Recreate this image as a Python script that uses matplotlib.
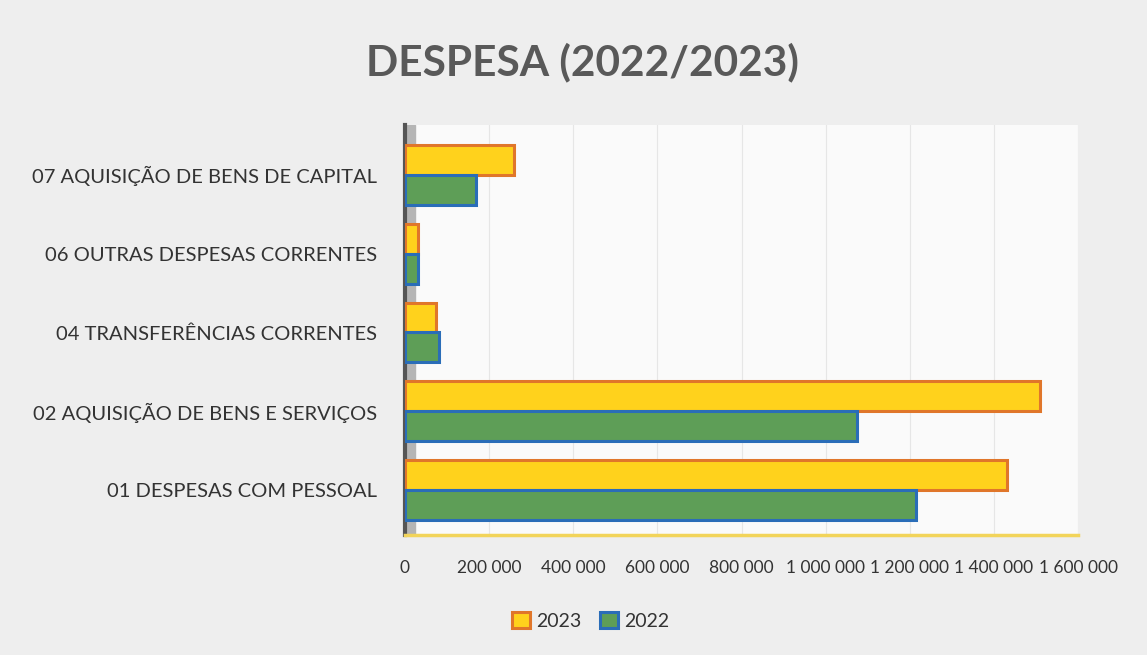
import matplotlib
matplotlib.use("Agg")
import matplotlib.pyplot as plt
import numpy as np

categories = ["01 DESPESAS COM PESSOAL", "02 AQUISIÇÃO DE BENS E SERVIÇOS",
              "04 TRANSFERÊNCIAS CORRENTES", "06 OUTRAS DESPESAS CORRENTES",
              "07 AQUISIÇÃO DE BENS DE CAPITAL"]
values_2023 = [1430000, 1510000, 75000, 30000, 260000]
values_2022 = [1215000, 1075000, 80000, 30000, 170000]
xticks = [0, 200000, 400000, 600000, 800000, 1000000, 1200000, 1400000, 1600000]
xtick_labels = ["0", "200 000", "400 000", "600 000", "800 000", "1 000 000",
                "1 200 000", "1 400 000", "1 600 000"]

plt.rcParams['font.family'] = ['Lato', 'DejaVu Sans']

fig = plt.figure(figsize=(11.47, 6.55), dpi=100)
fig.patch.set_facecolor("#eeeeee")
ax = fig.add_axes([0.353, 0.183, 0.587, 0.626])
ax.set_facecolor("#fafafa")

y = np.arange(len(categories))
h = 0.38
ax.barh(y + h / 2, values_2023, height=h, color="#FFD21C", edgecolor="#E0762A",
        linewidth=2.2, label="2023", zorder=3)
ax.barh(y - h / 2, values_2022, height=h, color="#5E9E57", edgecolor="#2A6DB8",
        linewidth=2.2, label="2022", zorder=3)

ax.set_xlim(0, 1600000)
ax.set_ylim(-0.57, 4.63)
ax.set_xticks(xticks)
ax.set_xticklabels(xtick_labels, fontsize=12.5, color="#333333")
ax.set_yticks(y)
ax.set_yticklabels(categories, fontsize=14.5, color="#333333")
ax.tick_params(axis="both", length=0)
ax.tick_params(axis="x", pad=18)
ax.tick_params(axis="y", pad=20)

ax.grid(axis="x", color="#e6e6e6", linewidth=0.8, zorder=0)
ax.axvspan(0, 25000, color="#b5b5b5", zorder=1)
for s in ["top", "right"]:
    ax.spines[s].set_visible(False)
ax.spines["left"].set_color("#555555")
ax.spines["left"].set_linewidth(3)
ax.spines["bottom"].set_color("#f2d45a")
ax.spines["bottom"].set_linewidth(2.5)

fig.text(0.508, 0.905, "DESPESA (2022/2023)", ha="center", va="center",
         fontsize=30.5, fontweight="bold", color="#595959")

leg = fig.legend(loc="center", bbox_to_anchor=(0.515, 0.052), ncol=2, frameon=False,
                 fontsize=14, handlelength=0.9, handleheight=0.9, columnspacing=1.0,
                 handletextpad=0.3)
for t in leg.get_texts():
    t.set_color("#333333")

fig.savefig("out.png", dpi=100, facecolor=fig.get_facecolor())
